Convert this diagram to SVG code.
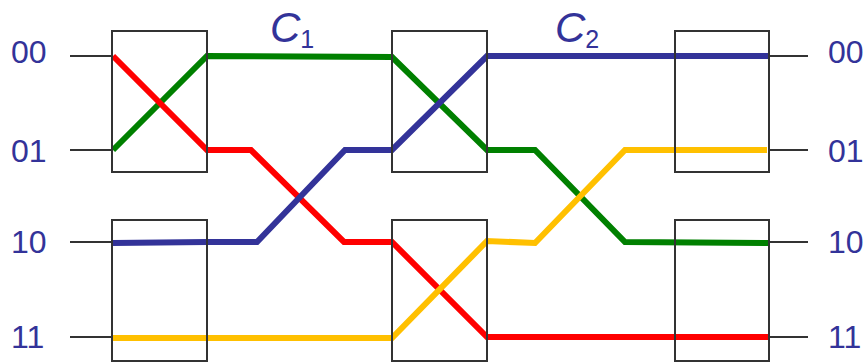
<svg xmlns="http://www.w3.org/2000/svg" width="865" height="363" viewBox="0 0 865 363">
<style>
.box{fill:none;stroke:#333;stroke-width:2}
.stub{stroke:#333;stroke-width:2}
.w{fill:none;stroke-width:6;stroke-linejoin:miter}
.lbl{font-family:"Liberation Sans","DejaVu Sans",sans-serif;font-size:32px;fill:#333399}
.c{font-family:"Liberation Sans","DejaVu Sans",sans-serif;font-style:italic;fill:#333399}
</style>
<rect width="865" height="363" fill="#fff"/>
<g id="stubs">
<line class="stub" x1="70" y1="56" x2="112" y2="56"/>
<line class="stub" x1="70" y1="150" x2="112" y2="150"/>
<line class="stub" x1="70" y1="242" x2="112" y2="242"/>
<line class="stub" x1="70" y1="337" x2="112" y2="337"/>
<line class="stub" x1="769" y1="56" x2="808" y2="56"/>
<line class="stub" x1="769" y1="150" x2="808" y2="150"/>
<line class="stub" x1="769" y1="242" x2="808" y2="242"/>
<line class="stub" x1="769" y1="337" x2="808" y2="337"/>
</g>
<g id="connectors">
<polyline class="w" stroke="#008000" points="113,150 207,56 392,57 487,150 535,150 625,242 769,243"/>
<polyline class="w" stroke="#ff0000" points="113,56 207,150 251,150 344,242 392,242 487,337 769,337"/>
<polyline class="w" stroke="#333399" points="113,243 207,242 257,242 345,150 392,150 487,56 769,56"/>
<polyline class="w" stroke="#ffc000" points="113,338 392,338 487,241 535,243 625,150 767,150"/>
</g>
<g id="sw1a"><rect class="box" x="112" y="31" width="95" height="141"/></g>
<g id="sw1b"><rect class="box" x="112" y="220" width="95" height="141"/></g>
<g id="sw2a"><rect class="box" x="392" y="31" width="95" height="141"/></g>
<g id="sw2b"><rect class="box" x="392" y="220" width="95" height="141"/></g>
<g id="sw3a"><rect class="box" x="675" y="31" width="94" height="141"/></g>
<g id="sw3b"><rect class="box" x="675" y="220" width="94" height="141"/></g>
<g id="labels">
<text class="lbl" x="11" y="63">00</text>
<text class="lbl" x="11" y="162">01</text>
<text class="lbl" x="11" y="253">10</text>
<text class="lbl" x="11" y="348">11</text>
<text class="lbl" x="828" y="63">00</text>
<text class="lbl" x="828" y="162">01</text>
<text class="lbl" x="828" y="253">10</text>
<text class="lbl" x="828" y="348">11</text>
<text class="c" x="270" y="42" font-size="42">C<tspan font-size="25" font-style="normal" dy="6">1</tspan></text>
<text class="c" x="555" y="42" font-size="42">C<tspan font-size="25" font-style="normal" dy="6">2</tspan></text>
</g>
</svg>
